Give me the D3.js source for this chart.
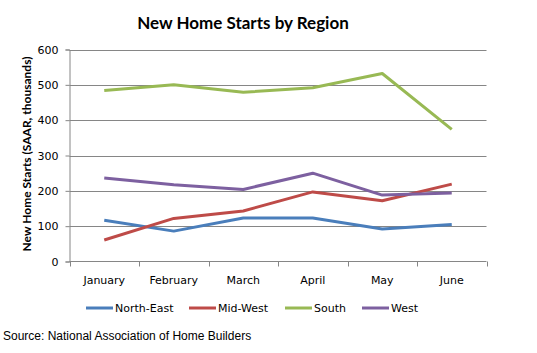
<!DOCTYPE html>
<html>
<head>
<meta charset="utf-8">
<script src="https://cdn.jsdelivr.net/npm/d3@7"></script>
<style>
body { margin: 0; background: #fff; }
svg { display: block; }
</style>
</head>
<body>
<script>
// data (thousands, SAAR)
var months = ["January", "February", "March", "April", "May", "June"];
var northEast = [117, 86, 123, 123, 92, 105];
var midWest = [61, 122, 143, 197, 172, 219];
var south = [484, 500, 479, 492, 532, 374];
var west = [236, 217, 204, 250, 188, 194];
var seriesNames = ["North-East", "Mid-West", "South", "West"];
var yTicks = [0, 100, 200, 300, 400, 500, 600];

var w = 537, h = 353;
var pLeft = 69.5, pRight = 486.5, pTop = 49.5, pBottom = 261.5;
var colors = ["#4a7ebb", "#be4b48", "#98b954", "#7d60a0"];
var series = [northEast, midWest, south, west];
var tickFont = "'DejaVu Sans', Verdana, sans-serif";

var svg = d3.select("body").append("svg")
  .attr("width", w)
  .attr("height", h);

var x = d3.scaleBand()
  .domain(months)
  .range([pLeft, pRight]);

var y = d3.scaleLinear()
  .domain([0, 600])
  .range([pBottom, pTop]);

// gridlines
svg.append("g")
  .selectAll("line")
  .data(yTicks.slice(1))
  .join("line")
  .attr("x1", pLeft)
  .attr("x2", pRight)
  .attr("y1", d => Math.round(y(d)) + 0.5)
  .attr("y2", d => Math.round(y(d)) + 0.5)
  .attr("stroke", "#868686");

// y axis
var yAxis = svg.append("g")
  .attr("transform", `translate(${pLeft},0)`)
  .call(d3.axisLeft(y).tickValues(yTicks).tickSize(4).tickPadding(7));
yAxis.select(".domain").attr("stroke", "#868686");
yAxis.selectAll(".tick line").attr("stroke", "#868686");
yAxis.selectAll("text")
  .attr("font-family", tickFont)
  .attr("font-size", 11)
  .attr("fill", "#000");

// x axis: ticks on band edges, labels in band centres
var xg = svg.append("g");
xg.append("line")
  .attr("x1", pLeft).attr("x2", pRight)
  .attr("y1", pBottom).attr("y2", pBottom)
  .attr("stroke", "#868686");
xg.selectAll("line.tk")
  .data(months.map(m => x(m)).concat([pRight]))
  .join("line")
  .attr("class", "tk")
  .attr("x1", d => Math.round(d) + 0.5)
  .attr("x2", d => Math.round(d) + 0.5)
  .attr("y1", pBottom)
  .attr("y2", pBottom + 5)
  .attr("stroke", "#868686");
xg.selectAll("text")
  .data(months)
  .join("text")
  .attr("x", d => x(d) + x.bandwidth() / 2)
  .attr("y", 284)
  .attr("text-anchor", "middle")
  .attr("font-family", tickFont)
  .attr("font-size", 11)
  .text(d => d);

// lines
var line = d3.line()
  .x((d, i) => x(months[i]) + x.bandwidth() / 2)
  .y(d => y(d));

svg.append("g")
  .selectAll("path")
  .data(series)
  .join("path")
  .attr("d", line)
  .attr("fill", "none")
  .attr("stroke", (d, i) => colors[i])
  .attr("stroke-width", 3)
  .attr("stroke-linejoin", "round");

// title
svg.append("text")
  .attr("x", 243)
  .attr("y", 29)
  .attr("text-anchor", "middle")
  .attr("font-family", "Lato, 'Open Sans', sans-serif")
  .attr("font-weight", "bold")
  .attr("font-size", 17)
  .text("New Home Starts by Region");

// y axis title
svg.append("text")
  .attr("transform", "translate(31,154) rotate(-90)")
  .attr("text-anchor", "middle")
  .attr("font-family", "Lato, 'Open Sans', sans-serif")
  .attr("font-weight", "bold")
  .attr("font-size", 12)
  .text("New Home Starts (SAAR, thousands)");

// legend
var legendX = [86, 189, 285, 362];
var leg = svg.append("g")
  .selectAll("g")
  .data(seriesNames)
  .join("g")
  .attr("transform", (d, i) => `translate(${legendX[i]},308)`);
leg.append("line")
  .attr("x1", 0).attr("x2", 27)
  .attr("stroke", (d, i) => colors[i])
  .attr("stroke-width", 3);
leg.append("text")
  .attr("x", 29)
  .attr("y", 4)
  .attr("font-family", tickFont)
  .attr("font-size", 11)
  .text(d => d);

// source note
svg.append("text")
  .attr("x", 3)
  .attr("y", 340)
  .attr("font-family", "'Liberation Sans', Arial, sans-serif")
  .attr("font-size", 12)
  .text("Source: National Association of Home Builders");
</script>
</body>
</html>
